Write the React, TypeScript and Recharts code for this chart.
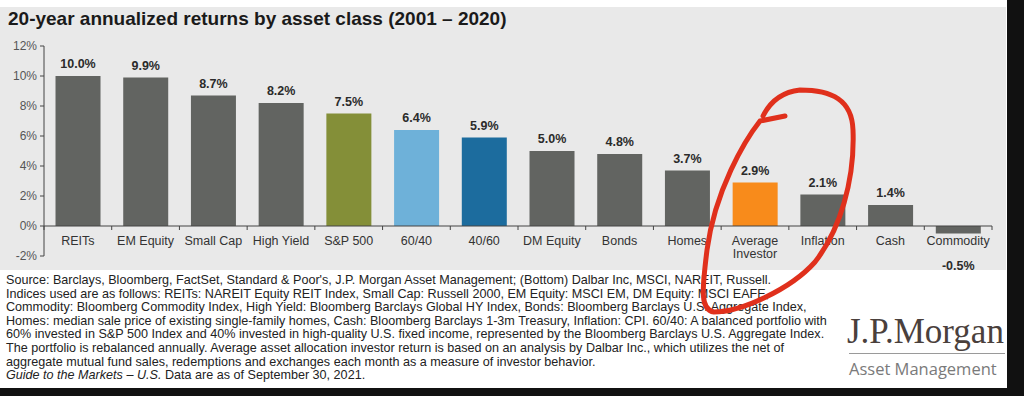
import { Bar, BarChart, Cell, LabelList, ReferenceLine, XAxis, YAxis } from 'recharts'

const categories = [
  'REITs',
  'EM Equity',
  'Small Cap',
  'High Yield',
  'S&P 500',
  '60/40',
  '40/60',
  'DM Equity',
  'Bonds',
  'Homes',
  'Average Investor',
  'Inflation',
  'Cash',
  'Commodity',
]
const returns = [10.0, 9.9, 8.7, 8.2, 7.5, 6.4, 5.9, 5.0, 4.8, 3.7, 2.9, 2.1, 1.4, -0.5]
const yTicks = [-2, 0, 2, 4, 6, 8, 10, 12]

const footnotes = [
  "Source: Barclays, Bloomberg, FactSet, Standard & Poor's, J.P. Morgan Asset Management; (Bottom) Dalbar Inc, MSCI, NAREIT, Russell.",
  'Indices used are as follows: REITs: NAREIT Equity REIT Index, Small Cap: Russell 2000, EM Equity: MSCI EM, DM Equity: MSCI EAFE,',
  'Commodity: Bloomberg Commodity Index, High Yield: Bloomberg Barclays Global HY Index, Bonds: Bloomberg Barclays U.S. Aggregate Index,',
  'Homes: median sale price of existing single-family homes, Cash: Bloomberg Barclays 1-3m Treasury, Inflation: CPI. 60/40: A balanced portfolio with',
  '60% invested in S&P 500 Index and 40% invested in high-quality U.S. fixed income, represented by the Bloomberg Barclays U.S. Aggregate Index.',
  'The portfolio is rebalanced annually. Average asset allocation investor return is based on an analysis by Dalbar Inc., which utilizes the net of',
  'aggregate mutual fund sales, redemptions and exchanges each month as a measure of investor behavior.',
]

const GRAY = '#626461'
const barColors = [GRAY, GRAY, GRAY, GRAY, '#848f38', '#6eb1d9', '#1c6c9e', GRAY, GRAY, GRAY, '#f88b1b', GRAY, GRAY, GRAY]

const data = categories.map((name, i) => ({ name, value: returns[i] }))

// chart geometry, used to find where the zero line sits
const CHART_W = 1005
const CHART_H = 290
const X_AXIS_H = 1
const margin = { top: 46, right: 13, bottom: 33, left: 4 }
const Y_MIN = -2
const Y_MAX = 12
const plotH = CHART_H - margin.top - margin.bottom - X_AXIS_H
const zeroY = margin.top + (plotH * Y_MAX) / (Y_MAX - Y_MIN)
const FONT = '"Liberation Sans", Arial, sans-serif'

function CategoryTick(props: any) {
  const { x, payload, index } = props
  const half = payload.offset ?? 33.9
  const label: string = payload.value
  const lines = label.length > 12 ? label.split(' ') : [label]
  return (
    <g>
      <line x1={x - half} x2={x - half} y1={zeroY} y2={zeroY + 4} stroke="#444" />
      {index === categories.length - 1 && (
        <line x1={x + half} x2={x + half} y1={zeroY} y2={zeroY + 4} stroke="#444" />
      )}
      {lines.map((t, i) => (
        <text key={i} x={x} y={zeroY + 19 + i * 13} textAnchor="middle" fontSize={12.5} fill="#333" fontFamily={FONT}>
          {t}
        </text>
      ))}
    </g>
  )
}

function ValueLabel(props: any) {
  const { x, y, width, value } = props
  const cx = x + width / 2
  const ty = value < 0 ? zeroY + 44 : y - 8
  return (
    <text x={cx} y={ty} textAnchor="middle" fontSize={12.5} fontWeight="bold" fill="#2b2b2b" fontFamily={FONT}>
      {value.toFixed(1)}%
    </text>
  )
}

export default function App() {
  return (
    <div style={{ position: 'absolute', left: 0, top: 0, width: 1024, height: 396, background: '#fff', overflow: 'hidden', fontFamily: FONT }}>
      <div style={{ position: 'absolute', left: 0, top: 7, width: 1006, height: 263, background: '#e9e9e9' }} />
      <div style={{ position: 'absolute', left: 8, top: 8, fontSize: 19, fontWeight: 'bold', color: '#1a1a1a', whiteSpace: 'nowrap' }}>
        20-year annualized returns by asset class (2001 – 2020)
      </div>
      <div style={{ position: 'absolute', left: 0, top: 0 }}>
        <BarChart width={CHART_W} height={CHART_H} data={data} margin={margin} barCategoryGap="17%">
          <YAxis
            domain={[Y_MIN, Y_MAX]}
            ticks={yTicks}
            width={40}
            tickFormatter={(v: number) => `${v}%`}
            stroke="#444"
            tickSize={4}
            tickMargin={3}
            tick={{ fontSize: 12, fill: '#555', fontFamily: FONT }}
            allowDataOverflow
          />
          <XAxis dataKey="name" height={X_AXIS_H} axisLine={false} tickLine={false} interval={0} tick={<CategoryTick />} />
          <ReferenceLine y={0} stroke="#444" strokeWidth={1.2} />
          <Bar dataKey="value" isAnimationActive={false}>
            {data.map((d, i) => (
              <Cell key={d.name} fill={barColors[i]} />
            ))}
            <LabelList dataKey="value" content={<ValueLabel />} />
          </Bar>
        </BarChart>
      </div>
      <div style={{ position: 'absolute', left: 6, top: 274, fontSize: 12.6, lineHeight: '13.6px', color: '#222', whiteSpace: 'nowrap' }}>
        {footnotes.map((t, i) => (
          <div key={i}>{t}</div>
        ))}
        <div>
          <i>Guide to the Markets – U.S.</i> Data are as of September 30, 2021.
        </div>
      </div>
      <div style={{ position: 'absolute', left: 847, top: 314, fontFamily: '"Liberation Serif", "Times New Roman", serif', fontSize: 35, color: '#4a403c', whiteSpace: 'nowrap', lineHeight: '36px' }}>
        J.P.Morgan
      </div>
      <div style={{ position: 'absolute', left: 849, top: 353, width: 156, height: 1, background: '#9a9a9a' }} />
      <div style={{ position: 'absolute', left: 849, top: 358, fontFamily: '"Open Sans", sans-serif', fontSize: 16.5, color: '#7a7a7a', whiteSpace: 'nowrap', lineHeight: '22px' }}>
        Asset Management
      </div>
      <svg width={1024} height={396} style={{ position: 'absolute', left: 0, top: 0 }}>
        <path
          d="M 785 116 L 760 121 C 745 140, 715 190, 707 250 C 702 290, 700 310, 714 312 C 740 312, 790 290, 815 262 C 840 230, 855 180, 853 130 C 852 100, 832 90, 800 90 C 782 92, 770 102, 763 116"
          fill="none"
          stroke="#e0301c"
          strokeWidth={5}
          strokeLinecap="round"
          strokeLinejoin="round"
        />
      </svg>
      <div style={{ position: 'absolute', left: 1007, top: 0, width: 17, height: 396, background: '#111' }} />
      <div style={{ position: 'absolute', left: 0, top: 388, width: 1024, height: 8, background: '#111' }} />
    </div>
  )
}
